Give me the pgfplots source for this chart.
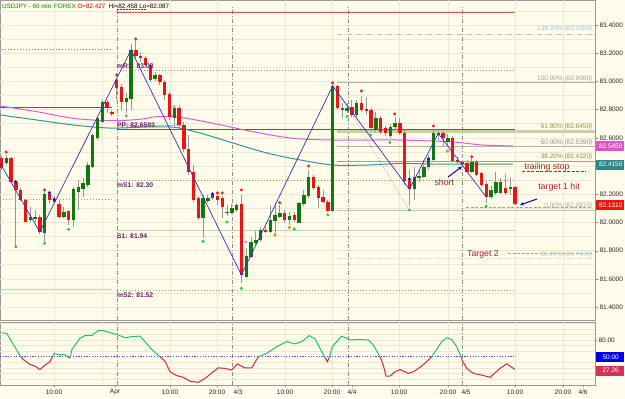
\documentclass[border=0pt]{standalone}
\usepackage{pgfplots}
\pgfplotsset{compat=1.18}
\usepackage{pgfplotstable}
\usepackage{fontspec}
\setmainfont{Liberation Sans}
\usetikzlibrary{arrows.meta}

\definecolor{bgc}{RGB}{255,252,236}
\definecolor{gridc}{RGB}{236,232,212}
\definecolor{dayc}{RGB}{140,140,140}
\definecolor{upc}{RGB}{17,119,17}
\definecolor{dnc}{RGB}{238,20,20}
\definecolor{wickc}{RGB}{150,150,150}
\definecolor{magc}{RGB}{215,95,215}
\definecolor{tealc}{RGB}{50,150,150}
\definecolor{steelc}{RGB}{51,102,153}
\definecolor{zzc}{RGB}{50,50,180}
\definecolor{purp}{RGB}{102,34,102}
\definecolor{annc}{RGB}{170,34,51}
\definecolor{oliv}{RGB}{143,143,64}
\definecolor{lvlg}{RGB}{110,190,60}
\definecolor{s1g}{RGB}{180,220,170}
\definecolor{oscg}{RGB}{40,190,100}
\definecolor{oscr}{RGB}{204,40,80}
\definecolor{titleg}{RGB}{0,128,0}
\definecolor{titler}{RGB}{204,0,0}
\definecolor{redl}{RGB}{200,90,80}
\definecolor{fibblue}{RGB}{158,195,224}
\definecolor{fibgray}{RGB}{150,160,170}
\definecolor{tgtg}{RGB}{140,190,70}
\definecolor{dotr}{RGB}{230,30,30}
\definecolor{dotg}{RGB}{40,200,60}
\definecolor{dotb}{RGB}{20,20,220}
\definecolor{doto}{RGB}{240,140,20}

\newcommand{\fs}[1]{\fontsize{#1}{#1}\selectfont}

\pgfplotstableread{
x o h l c
1.4 82.455 82.471 82.372 82.384
6.2 82.419 82.478 82.407 82.455
11.0 82.455 82.464 82.279 82.288
15.8 82.288 82.293 81.828 82.230
20.6 82.230 82.244 82.152 82.159
25.4 82.159 82.166 82.003 82.005
30.2 82.017 82.111 82.005 82.040
35.0 82.029 82.088 82.003 82.040
39.8 82.040 82.052 81.917 81.934
44.6 81.923 82.230 81.851 82.201
49.4 82.201 82.210 82.137 82.159
54.2 82.166 82.187 82.137 82.147
59.0 82.135 82.159 82.031 82.040
63.8 82.040 82.111 82.029 82.076
68.6 82.081 82.088 81.982 82.017
73.4 82.017 82.253 81.969 82.235
78.2 82.218 82.301 82.088 82.249
83.0 82.235 82.313 82.182 82.281
87.8 82.265 82.430 82.253 82.407
92.6 82.395 82.632 82.384 82.620
97.4 82.598 82.754 82.584 82.738
102.2 82.714 82.868 82.705 82.856
107.0 82.856 82.868 82.774 82.809
111.8 82.785 82.797 82.754 82.774
116.6 83.010 83.024 82.868 82.951
121.4 82.962 82.981 82.797 82.856
126.2 82.856 82.918 82.776 82.880
131.0 82.880 83.265 82.797 83.223
135.8 83.223 83.293 83.166 83.182
140.6 83.182 83.208 83.137 83.164
145.4 83.164 83.180 83.102 83.116
150.2 83.116 83.131 82.996 83.010
155.0 83.017 83.067 83.003 83.045
159.8 83.045 83.053 82.974 82.994
164.6 82.994 83.010 82.868 82.904
169.4 82.911 82.925 82.726 82.747
174.2 82.740 82.825 82.683 82.811
179.0 82.811 82.833 82.655 82.691
183.8 82.691 82.712 82.499 82.521
188.6 82.521 82.620 82.336 82.360
193.4 82.360 82.407 82.145 82.159
198.2 82.173 82.187 82.017 82.031
203.0 82.029 82.194 81.889 82.171
207.8 82.154 82.194 82.137 82.171
212.6 82.173 82.216 82.159 82.194
217.4 82.187 82.208 82.124 82.159
222.2 82.171 82.187 82.031 82.111
227.0 82.067 82.124 82.045 82.076
231.8 82.065 82.130 82.059 82.104
236.6 82.088 82.137 82.074 82.124
241.4 82.130 82.194 81.570 81.627
246.2 81.615 81.818 81.606 81.762
251.0 81.757 81.898 81.745 81.863
255.8 81.852 81.939 81.840 81.875
260.6 81.875 81.970 81.863 81.946
265.4 81.946 81.970 81.923 81.932
270.2 81.934 82.124 81.923 82.017
275.0 82.012 82.135 81.923 82.053
279.8 82.040 82.124 82.029 82.069
284.6 82.069 82.088 81.994 82.017
289.4 82.017 82.076 81.982 82.047
294.2 82.053 82.074 82.003 82.017
299.0 81.998 82.147 81.994 82.135
303.8 82.128 82.230 82.116 82.194
308.6 82.187 82.372 82.173 82.320
313.4 82.324 82.336 82.230 82.242
318.2 82.253 82.265 82.102 82.171
323.0 82.182 82.230 82.135 82.147
327.8 82.147 82.159 82.074 82.083
332.6 82.083 82.974 82.074 82.967
337.4 82.967 82.974 82.797 82.809
342.2 82.811 82.846 82.740 82.797
347.0 82.792 82.846 82.776 82.811
351.8 82.821 82.868 82.747 82.762
356.6 82.762 82.868 82.747 82.847
361.4 82.847 82.896 82.783 82.797
366.2 82.802 82.889 82.762 82.792
371.0 82.797 82.811 82.648 82.667
375.8 82.655 82.783 82.641 82.738
380.6 82.738 82.754 82.627 82.643
385.4 82.667 82.683 82.613 82.632
390.2 82.613 82.698 82.599 82.679
395.0 82.675 82.747 82.655 82.705
399.8 82.703 82.740 82.620 82.636
404.6 82.636 82.655 82.265 82.296
409.4 82.296 82.372 82.116 82.235
414.2 82.235 82.395 82.159 82.320
419.0 82.313 82.372 82.287 82.329
423.8 82.324 82.443 82.315 82.395
428.6 82.395 82.478 82.372 82.455
433.4 82.443 82.655 82.428 82.632
438.2 82.620 82.648 82.584 82.632
443.0 82.632 82.648 82.535 82.596
447.8 82.572 82.627 82.549 82.596
452.6 82.596 82.613 82.428 82.437
457.4 82.443 82.464 82.414 82.428
462.2 82.430 82.443 82.407 82.419
467.0 82.423 82.443 82.350 82.360
471.8 82.360 82.457 82.350 82.430
476.6 82.430 82.443 82.329 82.336
481.4 82.348 82.357 82.251 82.265
486.2 82.272 82.287 82.138 82.182
491.0 82.178 82.258 82.166 82.230
495.8 82.211 82.357 82.194 82.288
500.6 82.211 82.315 82.201 82.288
505.4 82.242 82.343 82.194 82.211
510.2 82.235 82.315 82.194 82.253
515.0 82.253 82.258 82.124 82.131
}\candles

\pgfplotsset{
  every axis/.append style={
    scale only axis, xmin=0, xmax=595,
    axis line style={draw=black!40},
    tick style={draw=black!50},
    tick align=outside, major tick length=3bp,
    ticklabel style={font=\fs{6.5}, text=black!85},
  },
  candle/.style 2 args={draw=none, mark=none,
    error bars/.cd, y dir=both, y explicit, error mark=none,
    error mark options={draw=none, fill=none},
    error bar style={draw=#1, line width=#2}},
}

\begin{document}
\begin{tikzpicture}[x=1bp,y=1bp]
\useasboundingbox (0,0) rectangle (625,398);
\fill[bgc] (0,0) rectangle (625,398);

% ---------------- price panel ----------------
\begin{axis}[
  at={(0bp,78bp)}, anchor=south west,
  width=595bp, height=320bp,
  ymin=81.308, ymax=83.577,
  xtick=\empty,
  ytick={81.4,81.6,81.8,82.0,82.2,82.4,82.6,82.8,83.0,83.2,83.4},
  yticklabels={81.4000,81.6000,81.8000,82.0000,82.2000,,82.6000,82.8000,83.0000,83.2000,83.4000},
  ytick pos=right, yticklabel pos=right,
  yticklabel style={anchor=west, xshift=-2bp},
]
% faint grid
\pgfplotsinvokeforeach{81.4,81.5,81.6,81.7,81.8,81.9,82.0,82.1,82.2,82.3,82.4,82.5,82.6,82.7,82.8,82.9,83.0,83.1,83.2,83.3,83.4,83.5}{
  \draw[gridc, line width=0.5bp] (axis cs:0,#1) -- (axis cs:595,#1);}
\pgfplotsinvokeforeach{54,102,170,217,285,332,399,448,515,563}{
  \draw[gridc, line width=0.8bp] (axis cs:#1,81.308) -- (axis cs:#1,83.577);}
\pgfplotsinvokeforeach{117,232,348,462}{
  \draw[dayc, line width=0.6bp, dash pattern=on 4bp off 2bp on 1bp off 2bp] (axis cs:#1,81.308) -- (axis cs:#1,83.53);}

% pivot / level lines
\addplot[redl, line width=1bp] coordinates {(117,83.487) (515,83.487)};
\addplot[purp, line width=0.8bp, dash pattern=on 1.5bp off 1.5bp] coordinates {(117,83.513) (147,83.513)};
\addplot[dnc!70, line width=0.8bp, dash pattern=on 1bp off 2bp] coordinates {(2,83.228) (112,83.228)};
\addplot[redl!80, line width=0.8bp, dash pattern=on 1bp off 2bp] coordinates {(117,83.08) (515,83.08)};
\addplot[steelc, line width=1bp] coordinates {(0,82.815) (112,82.815)};
\addplot[tealc!45, line width=1.6bp] coordinates {(117,82.687) (182,82.687)};
\addplot[steelc, line width=1bp] coordinates {(117,82.6593) (515,82.6593)};
\addplot[lvlg, line width=0.8bp, dash pattern=on 1bp off 2bp] coordinates {(0,82.164) (112,82.164)};
\addplot[lvlg, line width=0.8bp, dash pattern=on 1bp off 2bp] coordinates {(117,82.30) (515,82.30)};
\addplot[s1g, line width=1.2bp] coordinates {(117,81.94) (515,81.94)};
\addplot[s1g, line width=1.2bp] coordinates {(0,81.526) (112,81.526)};
\addplot[lvlg, line width=0.8bp, dash pattern=on 1bp off 2bp] coordinates {(117,81.52) (515,81.52)};

% fibonacci levels
\addplot[fibblue, line width=0.8bp, dash pattern=on 5bp off 2bp on 1bp off 2bp] coordinates {(337,83.335) (595,83.335)};
\addplot[black!30, line width=0.8bp] coordinates {(337,82.99) (595,82.99)};
\addplot[oliv!45, line width=2.2bp] coordinates {(337,82.645) (595,82.645)};
\addplot[black!30, line width=0.8bp] coordinates {(337,82.539) (595,82.539)};
\addplot[oliv!80, line width=0.8bp] coordinates {(337,82.432) (595,82.432)};
\addplot[black!25, line width=1.2bp] coordinates {(337,82.087) (595,82.087)};
\addplot[s1g!80!black!40, line width=0.8bp, dash pattern=on 5bp off 2bp on 1bp off 2bp] coordinates {(337,81.742) (595,81.742)};
\addplot[black!35, line width=0.6bp, dash pattern=on 1bp off 1.5bp] coordinates {(333,82.989) (409,82.088)};

% targets and trailing stop
\addplot[tgtg, line width=1.4bp, dash pattern=on 3bp off 1.5bp] coordinates {(466,82.105) (592,82.105)};
\addplot[tgtg, line width=1.4bp, dash pattern=on 3bp off 1.5bp] coordinates {(508,81.781) (592,81.781)};
\addplot[annc, line width=1.4bp, dash pattern=on 3bp off 1.5bp] coordinates {(522,82.36) (586,82.36)};

% moving averages
\addplot[magc, line width=1bp, smooth] coordinates {
(0,82.826) (37,82.785) (73,82.738) (110,82.721) (140,82.731) (157,82.750) (180,82.745)
(213,82.703) (253,82.643) (293,82.596) (333,82.584) (367,82.584) (400,82.584)
(450,82.572) (482,82.549) (513,82.542)};
\addplot[tealc, line width=1bp, smooth] coordinates {
(0,82.762) (37,82.726) (73,82.691) (110,82.669) (150,82.677) (175,82.674) (200,82.634)
(233,82.563) (267,82.492) (300,82.443) (333,82.407) (367,82.407) (400,82.418)
(433,82.414) (467,82.414) (513,82.414)};

% candles: wicks
\addplot[candle={wickc}{0.8bp}]
  table[x=x, y=l, y error plus expr={\thisrow{h}-\thisrow{l}}, y error minus expr=0] {\candles};
% candles: up bodies
\addplot[restrict expr to domain={\thisrow{c}-\thisrow{o}}{0:10}, candle={upc}{3.4bp}]
  table[x=x, y expr={(\thisrow{o}+\thisrow{c})/2},
        y error plus expr={max(abs(\thisrow{c}-\thisrow{o})/2,0.004)},
        y error minus expr={max(abs(\thisrow{c}-\thisrow{o})/2,0.004)}] {\candles};
% candles: down bodies
\addplot[restrict expr to domain={\thisrow{o}-\thisrow{c}}{0.00001:10}, candle={dnc}{3.4bp}]
  table[x=x, y expr={(\thisrow{o}+\thisrow{c})/2},
        y error plus expr={max(abs(\thisrow{c}-\thisrow{o})/2,0.004)},
        y error minus expr={max(abs(\thisrow{c}-\thisrow{o})/2,0.004)}] {\candles};

% zigzag
\addplot[zzc, line width=0.7bp] coordinates {
(0,82.421) (39.8,81.932) (131,83.223) (241.4,81.627) (332.6,82.967)
(409.4,82.235) (438.2,82.632) (486.2,82.180)};

% fractal dots
\addplot[only marks, mark=*, mark size=1.3, mark options={draw=dotr, fill=dotr}] coordinates {
(6.2,82.499) (44.6,82.230) (116.6,83.045) (135.8,83.301) (217.4,82.209) (222.2,82.209)
(241.4,82.230) (279.8,82.140) (308.6,82.400) (332.6,82.989) (361.4,82.932)
(394.6,82.769) (433.4,82.684) (471.8,82.466)};
\addplot[only marks, mark=*, mark size=1.3, mark options={draw=dotg, fill=dotg}] coordinates {
(15.8,81.828) (44.6,81.852) (68.6,81.951) (126.2,82.755) (203,81.865) (227,82.003)
(241.4,81.533) (294.2,81.953) (327.8,82.053) (347,82.750) (370.6,82.620)
(389.8,82.567) (409.4,82.088) (486.2,82.116)};
\addplot[only marks, mark=*, mark size=1.4, mark options={draw=dotb, fill=dotb}] coordinates {
(15.8,82.288) (49.4,82.210) (54.2,82.164) (212.6,82.201) (409.4,82.306) (428.6,82.450)};
\addplot[only marks, mark=*, mark size=1.5, mark options={draw=doto, fill=doto}] coordinates {
(275,81.911) (289.4,81.964) (447.8,82.506)};
\addplot[only marks, mark=*, mark size=1.0, mark options={draw=magc, fill=magc}] coordinates {
(174.2,82.821) (246.2,81.861) (457.4,82.460)};
\end{axis}

% ---------------- oscillator panel ----------------
\begin{axis}[
  at={(0bp,13bp)}, anchor=south west,
  width=595bp, height=63bp,
  ymin=-0.8, ymax=112.3,
  xtick={54,115,170,217,238,285,332,352,399,448,466,515,563,583},
  xticklabels={10:00,Apr,10:00,20:00,4/3,10:00,20:00,4/4,10:00,20:00,4/5,10:00,20:00,4/6},
  xtick pos=bottom, major tick length=2bp,
  xticklabel style={yshift=1bp},
  ytick={20,50,80}, yticklabels={,,80.00},
  ytick pos=right, yticklabel pos=right,
  yticklabel style={anchor=west, xshift=-2bp},
]
\pgfplotsinvokeforeach{10,20,30,40,60,70,80,90,100,110}{
  \draw[gridc, line width=0.5bp] (axis cs:0,#1) -- (axis cs:595,#1);}
\pgfplotsinvokeforeach{54,102,170,217,285,332,399,448,515,563}{
  \draw[gridc, line width=0.8bp] (axis cs:#1,-0.8) -- (axis cs:#1,112.3);}
\pgfplotsinvokeforeach{117,232,348,462}{
  \draw[dayc, line width=0.6bp, dash pattern=on 4bp off 2bp on 1bp off 2bp] (axis cs:#1,-0.8) -- (axis cs:#1,112.3);}
\addplot[blue!70, line width=1bp, dash pattern=on 1.2bp off 1.5bp] coordinates {(0,50) (515,50)};

\addplot[oscg, line width=1bp] coordinates {(1.7,93) (6.7,92) (11.7,77) (16.7,62) (20.7,50)};
\addplot[oscr, line width=1bp] coordinates {(20.7,50) (23.3,45) (30,36) (35,33) (40,27) (45,35) (50,41) (52.5,50)};
\addplot[oscg, line width=1bp] coordinates {(52.5,50) (54.3,56) (58.3,54) (65,53.6) (68,50)};
\addplot[oscr, line width=1bp] coordinates {(68,50) (69.3,48) (70.5,50)};
\addplot[oscg, line width=1bp] coordinates {(70.5,50) (71.7,62) (75,71) (80,83) (85,88) (91.7,88) (98.3,97) (103.3,97) (110,93) (116.7,90) (125,84) (131.7,86) (140,87) (145,77) (151.7,63) (160,50)};
\addplot[oscr, line width=1bp] coordinates {(160,50) (165,42) (170,23) (176.7,16) (183.3,13) (190,6) (198.3,4) (205,11) (213.3,23) (218.3,30) (225,29) (231.7,26) (237.3,37) (245,30) (251.7,30) (258.3,50)};
\addplot[oscg, line width=1bp] coordinates {(258.3,50) (266.7,56) (276.7,68) (286.7,77) (295,73) (301.7,77) (309.3,88) (315,82) (320,65) (324.6,50)};
\addplot[oscr, line width=1bp] coordinates {(324.6,50) (327.3,41) (329.5,50)};
\addplot[oscg, line width=1bp] coordinates {(329.5,50) (332.3,68) (336.7,77) (341.7,87) (346.7,83) (350,80) (358.3,81) (368.3,80) (373.3,71) (380,50)};
\addplot[oscr, line width=1bp] coordinates {(380,50) (383.3,35) (386,15) (390,15) (395,23) (400,27) (408.3,20) (413.3,23) (420,31) (426.7,41) (431.7,50)};
\addplot[oscg, line width=1bp] coordinates {(431.7,50) (436.7,63) (441.7,77) (446.7,84) (451.7,81) (456.7,68) (461,50)};
\addplot[oscr, line width=1bp] coordinates {(461,50) (462.3,43) (466.7,29) (473.3,20) (481.7,17) (490,13) (495,21) (500,29) (506.7,37) (515,27.3)};
\end{axis}

% ---------------- text annotations ----------------
\node[anchor=west, inner sep=0] at (2,392) {\fs{6.3}\textcolor{titleg}{USDJPY - 60 min\, FOREX}\ \textcolor{titler}{O=82.427}\ \ Hi=82.458\ Lo=82.087};

\begin{scope}[every node/.style={anchor=west, inner sep=0, text=purp, font=\fs{6.8}\bfseries}]
\node at (117,332) {mR1: 83.08};
\node at (117,273) {PP: 82.6593};
\node at (117,213) {mS1: 82.30};
\node at (117,162) {S1: 81.94};
\node at (117,102.7) {mS2: 81.52};
\end{scope}

\begin{scope}[every node/.style={anchor=east, inner sep=0, font=\fs{6.5}}]
\node[text=fibblue] at (592.5,368.7) {138.20\% (83.3350)};
\node[text=fibgray] at (592.5,319.3) {100.00\% (82.9900)};
\node[text=oliv] at (592.5,270.7) {61.80\% (82.6450)};
\node[text=black!45] at (592.5,255.3) {50.00\% (82.5390)};
\node[text=oliv] at (592.5,240.7) {38.20\% (82.4320)};
\node[text=black!35] at (592.5,192.3) {0.00\% (82.0870)};
\node[text=s1g!70!black!50] at (592.5,143) {-38.20\% (81.7420)};
\end{scope}

\begin{scope}[every node/.style={inner sep=0, text=annc, font=\fs{8.8}}]
\node at (444.3,216) {short};
\node at (547,230.7) {trailing stop};
\node at (559,210.3) {target 1 hit};
\node at (483,143.7) {Target 2};
\end{scope}
\draw[blue!80!black, line width=1bp, -{Stealth[length=4bp,width=3.5bp]}] (448,221) -- (462,231.5);
\draw[blue!80!black, line width=1bp, -{Stealth[length=4bp,width=3.5bp]}] (537,199) -- (520,193);

% right-hand value boxes
\begin{scope}[every node/.style={anchor=west, inner sep=0, minimum height=10bp, minimum width=28bp, text=white, font=\fs{6.5}}]
\node[fill=magc!90!red] at (596,252) {\,82.5450};
\node[fill=tealc!90!black] at (596,233.5) {\,82.4150};
\node[fill=dnc] at (596,193) {\,82.1310};
\node[fill=blue!90!black] at (596,41) {\,50.00};
\node[fill=oscr!95!white] at (596,27.5) {\,27.26};
\end{scope}
\end{tikzpicture}
\end{document}
